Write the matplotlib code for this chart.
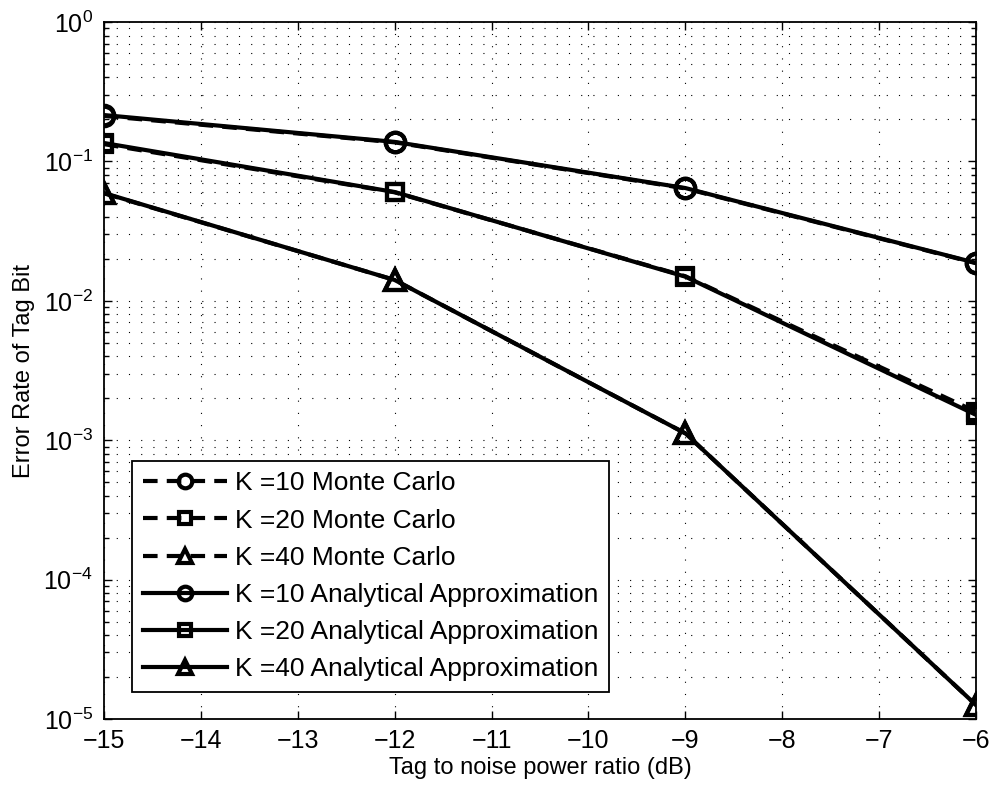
import matplotlib
matplotlib.use("Agg")
import matplotlib.pyplot as plt
from matplotlib.ticker import LogLocator, NullFormatter, FixedLocator

plt.rcParams['font.family'] = ['Liberation Sans', 'DejaVu Sans']
plt.rcParams['mathtext.fontset'] = 'custom'
plt.rcParams['mathtext.rm'] = 'Liberation Sans'
plt.rcParams['mathtext.it'] = 'Liberation Sans'

snr_db = [-15, -12, -9, -6]

mc_k10 = [0.212, 0.137, 0.0640, 0.0186]
mc_k20 = [0.133, 0.0600, 0.0150, 0.00160]
mc_k40 = [0.0590, 0.0141, 0.00112, 1.26e-5]

aa_k10 = [0.215, 0.138, 0.0644, 0.0187]
aa_k20 = [0.1355, 0.0603, 0.0149, 0.00152]
aa_k40 = [0.0593, 0.0141, 0.00112, 1.26e-5]

labels_mc = ["K =10 Monte Carlo", "K =20 Monte Carlo", "K =40 Monte Carlo"]
labels_aa = ["K =10 Analytical Approximation", "K =20 Analytical Approximation",
             "K =40 Analytical Approximation"]

fig = plt.figure(figsize=(9.89, 7.91), dpi=100)
ax = fig.add_axes([104/989, 1-719/791, (976-104)/989, (719-22)/791])

markers = ['o', 's', '^']
msizes = [14, 12, 15]
lw = 3.0
for y, m, ms, lab in zip([mc_k10, mc_k20, mc_k40], markers, msizes, labels_mc):
    ax.plot(snr_db, y, color='black', linestyle=(0, (3.5, 2.2)), linewidth=lw, marker=m,
            markersize=ms, markerfacecolor='none', markeredgewidth=3, label=lab)
for y, m, ms, lab in zip([aa_k10, aa_k20, aa_k40], markers, msizes, labels_aa):
    ax.plot(snr_db, y, color='black', linestyle='-', linewidth=lw, marker=m,
            markersize=ms, markerfacecolor='none', markeredgewidth=3, label=lab)

ax.set_yscale('log')
ax.set_xlim(-15, -6)
ax.set_ylim(1e-5, 1e0)
ax.xaxis.set_major_locator(FixedLocator(list(range(-15, -5))))
ax.set_xticklabels(['\u2212%d' % abs(v) for v in range(-15, -5)])
ax.yaxis.set_major_locator(LogLocator(base=10, numticks=10))
ax.yaxis.set_minor_locator(LogLocator(base=10, subs=[2, 3, 4, 5, 6, 7, 8, 9], numticks=20))
ax.yaxis.set_minor_formatter(NullFormatter())

ax.tick_params(which='both', direction='in', top=True, right=True, labelsize=18, width=1)
ax.tick_params(which='major', length=6)
ax.tick_params(which='minor', length=3.5)
ax.tick_params(axis='x', pad=7)
ax.tick_params(axis='y', pad=8)
for s in ax.spines.values():
    s.set_linewidth(1.3)

ax.grid(True, which='major', linestyle=(0, (1, 10)), color='black', linewidth=0.8)
ax.grid(True, which='minor', axis='y', linestyle=(0, (1, 10)), color='black', linewidth=0.8)

ax.set_xlabel('Tag to noise power ratio (dB)', fontsize=17, labelpad=3)
ax.set_ylabel('Error Rate of Tag Bit', fontsize=17, labelpad=6)

leg = ax.legend(loc='lower left', bbox_to_anchor=((132-104)/872, (719-692)/697),
                fontsize=19, frameon=True, fancybox=False, framealpha=1,
                edgecolor='black', borderpad=0.4, labelspacing=0.5,
                handlelength=3.2, handletextpad=0.3, borderaxespad=0,
                markerscale=0.7)
leg.get_frame().set_linewidth(1.3)

fig.savefig('out.png', dpi=100)
